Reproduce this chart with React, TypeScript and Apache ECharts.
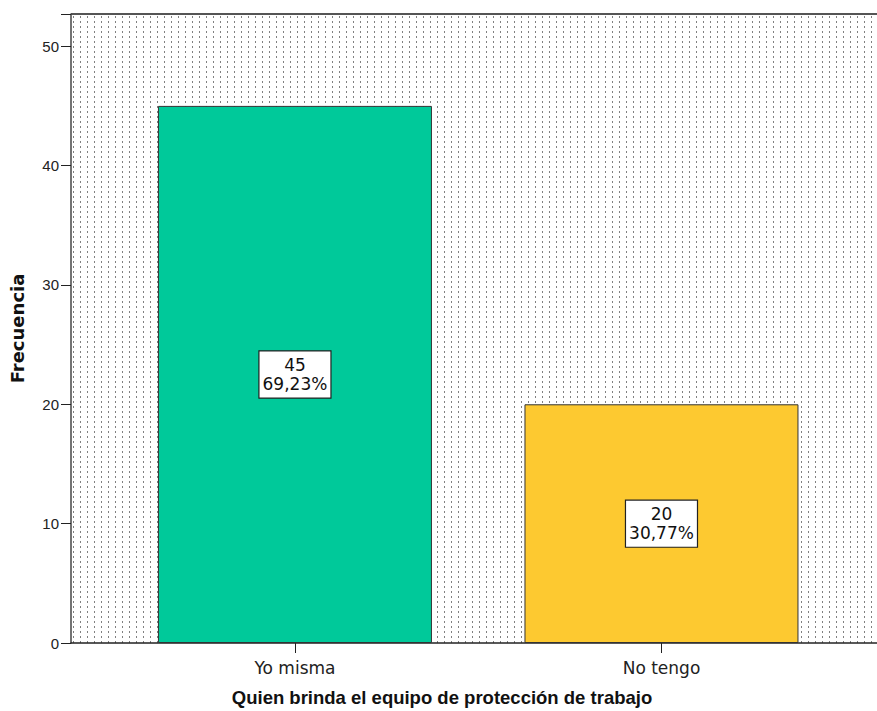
import React, { useEffect, useRef } from "react";
import * as echarts from "echarts";

const categories = ["Yo misma", "No tengo"];
const counts = [45, 20];
const percents = ["69,23%", "30,77%"];
const barColors = ["#00c99a", "#fdc930"];
const yTicks = [0, 10, 20, 30, 40, 50];

function makePattern() {
  const c = document.createElement("canvas");
  c.width = 7;
  c.height = 5;
  const ctx = c.getContext("2d")!;
  ctx.fillStyle = "#ffffff";
  ctx.fillRect(0, 0, 7, 5);
  ctx.fillStyle = "#808080";
  ctx.fillRect(3, 1, 1, 2);
  return c.toDataURL();
}

export default function App() {
  const ref = useRef<HTMLDivElement>(null);
  useEffect(() => {
    if (!ref.current) return;
    const chart = echarts.init(ref.current, null, { renderer: "svg" });
    const pat = makePattern();
    const dejavu = "'DejaVu Sans', sans-serif";
    const lib = "'Liberation Sans', Arial, sans-serif";
    chart.setOption({
      animation: false,
      backgroundColor: "#ffffff",
      grid: {
        left: 71,
        right: 0,
        top: 14,
        bottom: 68,
        show: true,
        containLabel: false,
        outerBoundsMode: "none",
        backgroundColor: { image: pat, repeat: "repeat", imageWidth: 7, imageHeight: 5 } as any,
        borderWidth: 0,
      } as any,
      xAxis: {
        type: "value",
        min: 0.389,
        max: 2.588,
        splitLine: { show: false },
        axisLine: { show: true, lineStyle: { color: "#222", width: 1.5 } },
        axisTick: {
          show: true,
          customValues: [1, 2],
          length: 10,
          lineStyle: { color: "#222" },
        },
        axisLabel: {
          customValues: [1, 2],
          formatter: (v: number) => categories[Math.round(v) - 1] ?? "",
          color: "#222",
          fontFamily: dejavu,
          fontSize: 17,
          margin: 16,
        },
      },
      yAxis: {
        type: "value",
        min: 0,
        max: 52.7,
        interval: 10,
        name: "Frecuencia",
        nameLocation: "middle",
        nameGap: 45,
        nameTextStyle: { fontFamily: dejavu, fontSize: 18, fontWeight: "bold", color: "#111" },
        splitLine: { show: false },
        axisLine: { show: true, lineStyle: { color: "#444", width: 1.5 } },
        axisTick: { show: true, length: 10, lineStyle: { color: "#222" } },
        axisLabel: {
          color: "#222",
          fontFamily: lib,
          fontSize: 15,
          margin: 12,
          formatter: (v: number) => (yTicks.includes(v) ? String(v) : ""),
        },
      },
      graphic: [
        {
          type: "line",
          shape: { x1: 71, y1: 14, x2: 877, y2: 14 },
          style: { stroke: "#555", lineWidth: 2 },
        },
        {
          type: "text",
          x: 442,
          y: 697,
          style: {
            text: "Quien brinda el equipo de protección de trabajo",
            font: `bold 18.5px ${lib}`,
            fill: "#111",
            textAlign: "center",
            textVerticalAlign: "middle",
          },
        },
      ],
      series: [
        {
          type: "bar",
          barWidth: 274,
          data: counts.map((v, i) => ({
            value: [i + 1, v],
            itemStyle: { color: barColors[i], borderColor: "#333", borderWidth: 1 },
          })),
          label: {
            show: true,
            position: "inside",
            formatter: (p: any) => `${counts[p.dataIndex]}\n${percents[p.dataIndex]}`,
            color: "#111",
            fontFamily: dejavu,
            fontSize: 17,
            lineHeight: 19,
            backgroundColor: "#ffffff",
            borderColor: "#222",
            borderWidth: 1.2,
            padding: [4, 3, 4, 3],
          },
        },
      ],
    });
    return () => chart.dispose();
  }, []);
  return (
    <div
      ref={ref}
      style={{ position: "absolute", left: 0, top: 0, width: 877, height: 711 }}
    />
  );
}
